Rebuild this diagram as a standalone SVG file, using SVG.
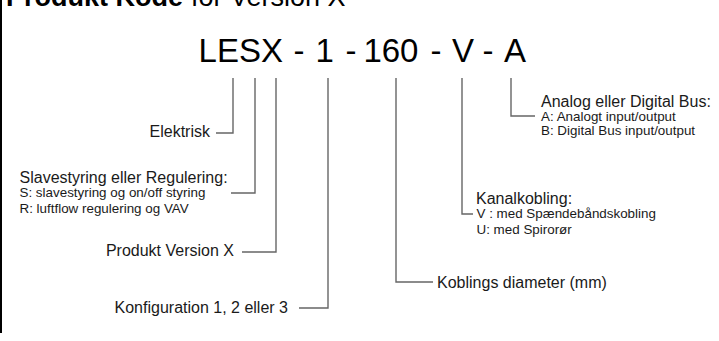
<svg xmlns="http://www.w3.org/2000/svg" width="719" height="341" viewBox="0 0 719 341">
<style>
  text { font-family: "Liberation Sans", Arial, sans-serif; fill: #1a1a1a; }
  .title { font-size: 27px; fill: #000; }
  .code { font-size: 33px; fill: #000; }
  .lbl { font-size: 16px; }
  .sub { font-size: 13.4px; }
  .conn { fill: none; stroke: #666; stroke-width: 1.4; }
</style>
<rect width="719" height="341" fill="#fff"/>
<line x1="1" y1="0" x2="1" y2="333" stroke="#000" stroke-width="2"/>
<g id="title">
  <text class="title" y="6"><tspan x="6" font-weight="bold">Produkt Kode</tspan><tspan x="191">for Version X</tspan></text>
</g>
<g id="code">
  <text class="code" y="62"><tspan x="198.6">LESX</tspan><tspan x="293.5">-</tspan><tspan x="315.5">1</tspan><tspan x="345.5">-</tspan><tspan x="363.4">160</tspan><tspan x="430.5">-</tspan><tspan x="452">V</tspan><tspan x="482.5">-</tspan><tspan x="504">A</tspan></text>
</g>
<g id="connectors">
  <path class="conn" d="M233 78 V133 H216"/>
  <path class="conn" d="M255 78 V193 H231"/>
  <path class="conn" d="M276 78 V252 H242"/>
  <path class="conn" d="M328 78 V308 H299"/>
  <path class="conn" d="M396 78 V282 H433"/>
  <path class="conn" d="M462 78 V214 H473"/>
  <path class="conn" d="M511 78 V116 H535"/>
</g>
<g id="elektrisk">
  <text class="lbl" x="210" y="137" text-anchor="end">Elektrisk</text>
</g>
<g id="styring">
  <text class="lbl" x="19.5" y="183">Slavestyring eller Regulering:</text>
  <text class="sub" x="19.5" y="197">S: slavestyring og on/off styring</text>
  <text class="sub" x="19.5" y="213">R: luftflow regulering og VAV</text>
</g>
<g id="version">
  <text class="lbl" x="234" y="256" text-anchor="end">Produkt Version X</text>
</g>
<g id="konfiguration">
  <text class="lbl" x="288" y="313" text-anchor="end">Konfiguration 1, 2 eller 3</text>
</g>
<g id="diameter">
  <text class="lbl" x="437" y="288">Koblings diameter (mm)</text>
</g>
<g id="kanalkobling">
  <text class="lbl" x="476" y="204">Kanalkobling:</text>
  <text class="sub" x="476.5" y="218">V : med Spændebåndskobling</text>
  <text class="sub" x="476.5" y="234">U: med Spirorør</text>
</g>
<g id="bus">
  <text class="lbl" x="541" y="107">Analog eller Digital Bus:</text>
  <text class="sub" x="541" y="121">A: Analogt input/output</text>
  <text class="sub" x="541" y="135">B: Digital Bus input/output</text>
</g>
</svg>
